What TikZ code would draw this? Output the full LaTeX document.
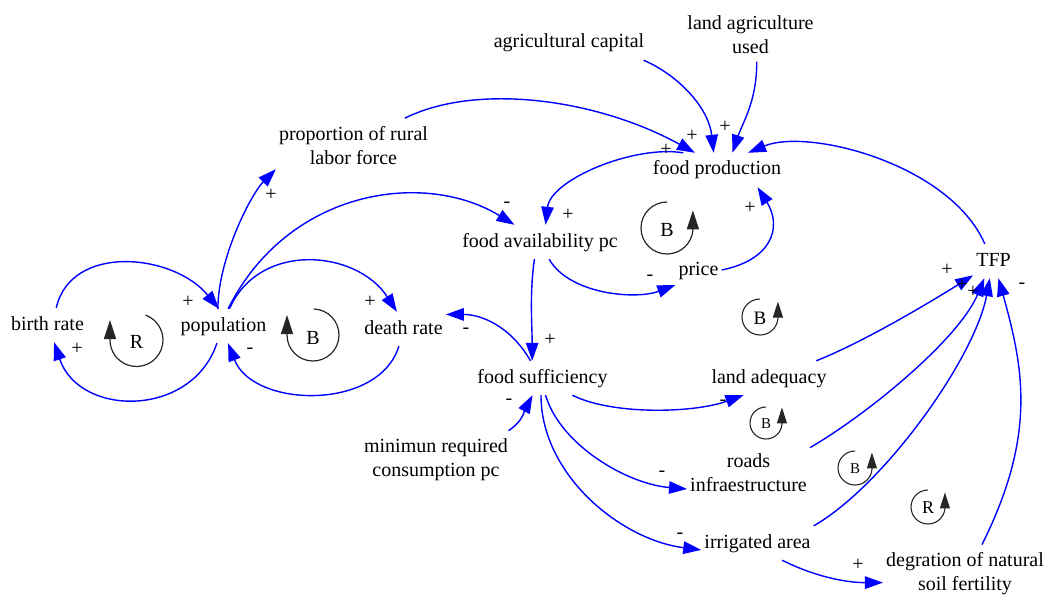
\documentclass[tikz,border=0pt]{standalone}
\usepackage{fontspec}
\setmainfont{Liberation Serif}
\usetikzlibrary{arrows.meta}
\definecolor{linkblue}{RGB}{0,0,255}
\newcommand\varfont{\fontsize{20}{24}\selectfont}
\newcommand\sgnfont{\fontsize{20}{22}\selectfont}
\tikzset{
  var/.style={font=\varfont, inner xsep=3pt, inner ysep=8pt, text height=14pt, text depth=4pt},
  vartwo/.style={font=\varfont, inner xsep=3pt, inner ysep=8pt, align=center},
  link/.style={draw=linkblue, line width=1.4pt, -{Triangle[length=18pt,width=12.5pt]}},
  sgn/.style={font=\sgnfont, inner sep=0pt},
  loopbig/.style={draw=black!85, line width=1.2pt, -{Triangle[length=19pt,width=12pt]}},
  loopsmall/.style={draw=black!85, line width=1.1pt, -{Triangle[length=16pt,width=10pt]}},
  looptxt/.style={inner sep=0pt}
}
\begin{document}
\begin{tikzpicture}[x=1pt,y=-1pt]
\useasboundingbox (0,0) rectangle (1048,596);
% variables
\node[var] (br) at (47.5,325) {birth rate};
\node[var] (pop) at (223.5,326) {population};
\node[var] (dr) at (403.5,329) {death rate};
\node[vartwo] (prop) at (353.5,145.5) {proportion of rural\\labor force};
\node[var] (agc) at (569,43) {agricultural capital};
\node[vartwo] (lau) at (750.5,34.5) {land agriculture\\used};
\node[var] (fp) at (717,170) {food production};
\node[var] (fa) at (540,242) {food availability pc};
\node[var] (price) at (698.5,270) {price};
\node[var] (tfp) at (993.5,261) {TFP};
\node[var] (fs) at (542.5,378) {food sufficiency};
\node[var] (la) at (769,378) {land adequacy};
\node[vartwo] (mrc) at (436,460) {minimun required\\consumption pc};
\node[vartwo] (roads) at (748.5,472.5) {roads\\infraestructure};
\node[var] (irr) at (757.5,543) {irrigated area};
\node[vartwo] (deg) at (965,574) {degration of natural\\soil fertility};
% links
\draw[link] (br.63) .. controls +(15,-65) and +(-45,-55) .. (pop.105);
\draw[link] (pop.-111) .. controls +(-25,75) and +(25,75) .. (br.-69);
\draw[link] (pop.71) .. controls +(30,-68) and +(-40,-62) .. (dr.111);
\draw[link] (dr.-105) .. controls +(-20,65) and +(25,65) .. (pop.-75);
\draw[link] (pop.108) .. controls +(0,-50) and +(-25,25) .. (prop.197);
\draw[link] (pop.75) .. controls +(60,-120) and +(-90,-55) .. (fa.146);
\draw[link] (prop.28) .. controls +(70,-35) and +(-100,-55) .. (fp.142);
\draw[link] (agc.-13) .. controls +(35,15) and +(-5,-45) .. (fp.101);
\draw[link] (lau.-77) .. controls +(0,40) and +(10,-30) .. (fp.48);
\draw[link] (tfp.117) .. controls +(-35,-80) and +(60,-25) .. (fp.29);
\draw[link] (fp.153) .. controls +(-50,-8) and +(5,-45) .. (fa.72);
\draw[link] (fa.-62) .. controls +(20,35) and +(-40,15) .. (price.-147);
\draw[link] (price.0) .. controls +(50,-10) and +(25,40) .. (fp.-23);
\draw[link] (fa.-108) .. controls +(-5,35) and +(0,-35) .. (fs.121);
\draw[link] (fs.125) .. controls +(-20,-35) and +(35,0) .. (dr.19.8);
\draw[link] (mrc.22.7) .. controls +(15,-10) and +(-8,15) .. (fs.-120.5);
\draw[link] (fs.-30) .. controls +(40,20) and +(-50,18) .. (la.-146.8);
\draw[link] (fs.-80) .. controls +(15,50) and +(-60,-5) .. (roads.-165);
\draw[link] (fs.-95) .. controls +(0,80) and +(-80,-10) .. (irr.-173);
\draw[link] (la.20.4) .. controls +(50,-20) and +(-40,25) .. (tfp.-145);
\draw[link] (roads.22.7) .. controls +(60,-35) and +(-25,60) .. (tfp.-118);
\draw[link] (irr.17.9) .. controls +(70,-40) and +(-15,80) .. (tfp.-102);
\draw[link] (deg.60) .. controls +(55,-110) and +(25,90) .. (tfp.-74);
\draw[link] (irr.-35) .. controls +(30,15) and +(-40,0) .. (deg.-174);
% polarity signs
\node[sgn] (s1) at (188,302) {+};
\node[sgn] (s2) at (77,349) {+};
\node[sgn] (s3) at (370,302) {+};
\node[sgn] (s4) at (250,351) {-};
\node[sgn] (s5) at (271,195) {+};
\node[sgn] (s6) at (507,205) {-};
\node[sgn] (s7) at (666,150) {+};
\node[sgn] (s8) at (692,136) {+};
\node[sgn] (s9) at (725,127) {+};
\node[sgn] (s10) at (568,215) {+};
\node[sgn] (s11) at (650,278) {-};
\node[sgn] (s12) at (750,208) {+};
\node[sgn] (s13) at (550,340) {+};
\node[sgn] (s14) at (466,331) {-};
\node[sgn] (s15) at (509,402) {-};
\node[sgn] (s16) at (723,403) {-};
\node[sgn] (s17) at (662,474) {-};
\node[sgn] (s18) at (680,536) {-};
\node[sgn] (s19) at (947,270) {+};
\node[sgn] (s20) at (962,285) {+};
\node[sgn] (s21) at (973,292) {+};
\node[sgn] (s22) at (1022,286) {-};
\node[sgn] (s23) at (858,565) {+};
% loop markers
\draw[loopbig] (136.5,340) ++(70:26.5pt) arc[start angle=70,end angle=-180,radius=26.5pt] -- ++(0pt,20pt);
\node[looptxt,font=\fontsize{20}{24}\selectfont] (lR1) at (136.5,342) {R};
\draw[loopbig] (313,335) ++(88:26pt) arc[start angle=88,end angle=-180,radius=26pt] -- ++(0pt,20pt);
\node[looptxt,font=\fontsize{20}{24}\selectfont] (lB1) at (313,338) {B};
\draw[loopbig] (667,228) ++(90:26pt) arc[start angle=90,end angle=355,radius=26pt] -- ++(0pt,20pt);
\node[looptxt,font=\fontsize{20}{24}\selectfont] (lB2) at (667,230) {B};
\draw[loopsmall] (760,317) ++(90:18pt) arc[start angle=90,end angle=355,radius=18pt] -- ++(0pt,17pt);
\node[looptxt,font=\fontsize{19}{22}\selectfont] (lB3) at (760,318) {B};
\draw[loopsmall] (766,423) ++(90:16pt) arc[start angle=90,end angle=355,radius=16pt] -- ++(0pt,17pt);
\node[looptxt,font=\fontsize{15}{18}\selectfont] (lB4) at (766,424) {B};
\draw[loopsmall] (855,468) ++(90:17pt) arc[start angle=90,end angle=355,radius=17pt] -- ++(0pt,17pt);
\node[looptxt,font=\fontsize{15}{18}\selectfont] (lB5) at (855,469) {B};
\draw[loopsmall] (928,507) ++(90:17pt) arc[start angle=90,end angle=355,radius=17pt] -- ++(0pt,16pt);
\node[looptxt,font=\fontsize{18}{21}\selectfont] (lR2) at (928,508) {R};
\end{tikzpicture}
\end{document}
